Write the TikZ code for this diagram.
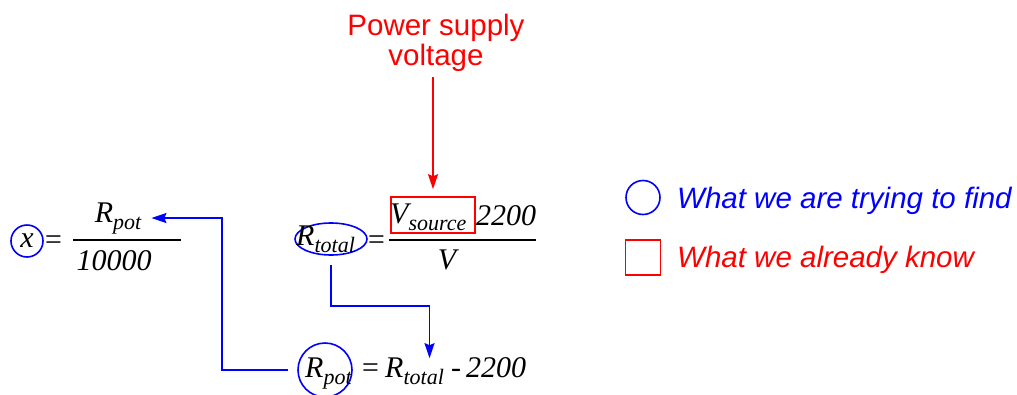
\documentclass[tikz,border=0pt]{standalone}
\usepackage{fontspec}
\setmainfont{Liberation Serif}
\newfontfamily\sansf{Liberation Sans}
\usetikzlibrary{arrows.meta,shapes.geometric}
\newcommand{\sbs}[1]{\raisebox{-7pt}{\fontsize{22}{22}\selectfont #1}}
\tikzset{
  eq/.style={inner sep=0pt, font=\fontsize{30}{30}\selectfont\itshape},
  lbl/.style={inner sep=0pt, font=\fontsize{29.5}{30}\selectfont\sansf},
  barrow/.style={draw=blue, line width=1.6pt, -{Stealth[length=15pt,width=10pt,inset=2pt]}},
  rarrow/.style={draw=red, line width=1.6pt, -{Stealth[length=15pt,width=10pt,inset=2pt]}},
  findmark/.style={draw=blue, line width=1.6pt},
  knowmark/.style={draw=red, line width=1.6pt},
  bar/.style={line width=1.6pt}
}
\begin{document}
\begin{tikzpicture}[x=1pt,y=-1pt]
\useasboundingbox (0,0) rectangle (1017,394);

% x = R_pot / 10000
\node[eq, findmark, circle, minimum size=32pt] (cx) at (27,241) {x};
\node[eq, anchor=base west] (eq1) at (43,249) {=};
\node[eq, anchor=base] (rp1) at (118,222) {R\sbs{pot}};
\draw[bar] (73,240) -- (181,240);
\node[eq, anchor=base] (d1) at (114,270) {10000};

% R_total = V_source 2200 / V
\node[findmark, ellipse, minimum width=72pt, minimum height=32pt, inner sep=0pt] (ell) at (331,239) {};
\node[eq, anchor=base west] (rt1) at (296,245) {R\sbs{total}};
\node[eq, anchor=base west] (eq2) at (366,249) {=};
\node[knowmark, minimum width=84pt, minimum height=36pt, inner sep=0pt] (vbox) at (433,215) {};
\node[eq, anchor=base west] (vs) at (390,223) {V\sbs{source}};
\node[eq, anchor=base west] (n2) at (476,225) {2200};
\draw[bar] (389,240) -- (536,240);
\node[eq, anchor=base] (d2) at (447,269) {V};

% R_pot = R_total - 2200
\node[findmark, circle, minimum size=54pt, inner sep=0pt] (cpot) at (325,370) {};
\node[eq, anchor=base west] (rp2) at (305,377) {R\sbs{pot}};
\node[eq, anchor=base west] (eq3) at (360,377) {=};
\node[eq, anchor=base west] (rt2) at (385,377) {R\sbs{total}};
\node[eq, anchor=base west] (m3) at (451,377) {-};
\node[eq, anchor=base west] (n3) at (466,377) {2200};

% Power supply label
\node[lbl, text=red, align=center, anchor=base] (ps) at (436,65) {Power supply\\voltage};
\draw[rarrow, shorten <=6pt, shorten >=7pt] (ps.south -| vbox.north) -- (vbox.north);

% connectors
\draw[barrow, shorten <=9pt] (ell.south) -- ++(0,50) -| ([xshift=15pt,yshift=-1pt]rt2.north);
\draw[barrow, shorten <=9pt] (cpot.west) -- ++(-75,0) |- ([xshift=10pt]rp1.east);

% legend
\node[findmark, circle, minimum size=34pt, inner sep=0pt] (lc) at (643,197.5) {};
\node[lbl, text=blue, anchor=base west, font=\fontsize{29.5}{30}\selectfont\sansf\itshape] (lt1) at (677,208) {What we are trying to find};
\node[knowmark, minimum size=35pt, inner sep=0pt] (ls) at (643,257.5) {};
\node[lbl, text=red, anchor=base west, font=\fontsize{29.5}{30}\selectfont\sansf\itshape] (lt2) at (677,267) {What we already know};
\end{tikzpicture}
\end{document}
